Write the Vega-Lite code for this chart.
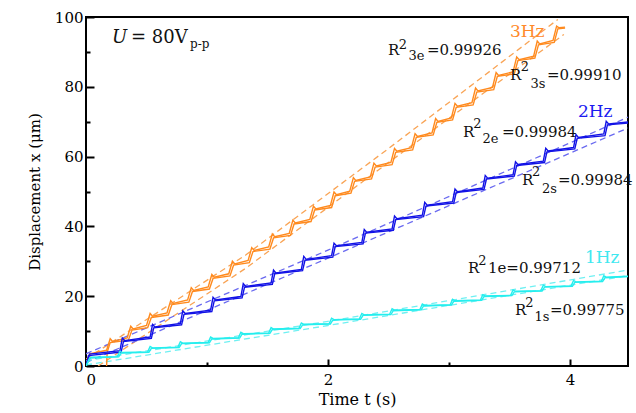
{
"$schema": "https://vega.github.io/schema/vega-lite/v6.json",
"width": 542, "height": 349,
"autosize": {"type": "none"},
"padding": {"left": 86, "top": 17, "right": 8, "bottom": 47},
"background": "white",
"config": {
  "view": {"stroke": "black", "strokeWidth": 2},
  "font": "DejaVu Serif",
  "axis": {"domain": false, "grid": false, "labelFont": "DejaVu Serif", "labelFontSize": 15, "labelColor": "black", "titleFont": "DejaVu Serif", "titleFontSize": 16, "titleFontWeight": "normal", "titleColor": "black", "tickColor": "black", "tickWidth": 2}
},
"datasets": {
"steps": [
{"f":"3Hz","c":"e","t":0,"y":0},{"f":"3Hz","c":"e","t":0.03,"y":3.5},
{"f":"3Hz","c":"e","t":0.17,"y":4.5},{"f":"3Hz","c":"e","t":0.20,"y":7.83},{"f":"3Hz","c":"e","t":0.22,"y":7.03},
{"f":"3Hz","c":"e","t":0.34,"y":8.03},{"f":"3Hz","c":"e","t":0.37,"y":11.41},{"f":"3Hz","c":"e","t":0.39,"y":10.61},
{"f":"3Hz","c":"e","t":0.50,"y":11.61},{"f":"3Hz","c":"e","t":0.53,"y":15.04},{"f":"3Hz","c":"e","t":0.55,"y":14.24},
{"f":"3Hz","c":"e","t":0.67,"y":15.24},{"f":"3Hz","c":"e","t":0.70,"y":18.72},{"f":"3Hz","c":"e","t":0.72,"y":17.92},
{"f":"3Hz","c":"e","t":0.84,"y":18.92},{"f":"3Hz","c":"e","t":0.87,"y":22.45},{"f":"3Hz","c":"e","t":0.89,"y":21.65},
{"f":"3Hz","c":"e","t":1.01,"y":22.65},{"f":"3Hz","c":"e","t":1.04,"y":26.22},{"f":"3Hz","c":"e","t":1.06,"y":25.42},
{"f":"3Hz","c":"e","t":1.18,"y":26.42},{"f":"3Hz","c":"e","t":1.21,"y":30.04},{"f":"3Hz","c":"e","t":1.23,"y":29.24},
{"f":"3Hz","c":"e","t":1.34,"y":30.24},{"f":"3Hz","c":"e","t":1.37,"y":33.91},{"f":"3Hz","c":"e","t":1.39,"y":33.11},
{"f":"3Hz","c":"e","t":1.51,"y":34.11},{"f":"3Hz","c":"e","t":1.54,"y":37.82},{"f":"3Hz","c":"e","t":1.56,"y":37.02},
{"f":"3Hz","c":"e","t":1.68,"y":38.02},{"f":"3Hz","c":"e","t":1.71,"y":41.79},{"f":"3Hz","c":"e","t":1.73,"y":40.99},
{"f":"3Hz","c":"e","t":1.85,"y":41.99},{"f":"3Hz","c":"e","t":1.88,"y":45.8},{"f":"3Hz","c":"e","t":1.90,"y":45.0},
{"f":"3Hz","c":"e","t":2.02,"y":46.0},{"f":"3Hz","c":"e","t":2.05,"y":49.86},{"f":"3Hz","c":"e","t":2.07,"y":49.06},
{"f":"3Hz","c":"e","t":2.18,"y":50.06},{"f":"3Hz","c":"e","t":2.21,"y":53.97},{"f":"3Hz","c":"e","t":2.23,"y":53.17},
{"f":"3Hz","c":"e","t":2.35,"y":54.17},{"f":"3Hz","c":"e","t":2.38,"y":58.13},{"f":"3Hz","c":"e","t":2.40,"y":57.33},
{"f":"3Hz","c":"e","t":2.52,"y":58.33},{"f":"3Hz","c":"e","t":2.55,"y":62.34},{"f":"3Hz","c":"e","t":2.57,"y":61.54},
{"f":"3Hz","c":"e","t":2.69,"y":62.54},{"f":"3Hz","c":"e","t":2.72,"y":66.59},{"f":"3Hz","c":"e","t":2.74,"y":65.79},
{"f":"3Hz","c":"e","t":2.86,"y":66.79},{"f":"3Hz","c":"e","t":2.89,"y":70.89},{"f":"3Hz","c":"e","t":2.91,"y":70.09},
{"f":"3Hz","c":"e","t":3.02,"y":71.09},{"f":"3Hz","c":"e","t":3.05,"y":75.24},{"f":"3Hz","c":"e","t":3.07,"y":74.44},
{"f":"3Hz","c":"e","t":3.19,"y":75.44},{"f":"3Hz","c":"e","t":3.22,"y":79.64},{"f":"3Hz","c":"e","t":3.24,"y":78.84},
{"f":"3Hz","c":"e","t":3.36,"y":79.84},{"f":"3Hz","c":"e","t":3.39,"y":84.08},{"f":"3Hz","c":"e","t":3.41,"y":83.28},
{"f":"3Hz","c":"e","t":3.53,"y":84.28},{"f":"3Hz","c":"e","t":3.56,"y":88.57},{"f":"3Hz","c":"e","t":3.58,"y":87.77},
{"f":"3Hz","c":"e","t":3.70,"y":88.77},{"f":"3Hz","c":"e","t":3.73,"y":93.11},{"f":"3Hz","c":"e","t":3.75,"y":92.31},
{"f":"3Hz","c":"e","t":3.86,"y":93.31},{"f":"3Hz","c":"e","t":3.89,"y":97.4},{"f":"3Hz","c":"e","t":3.91,"y":96.9},
{"f":"3Hz","c":"e","t":3.96,"y":97.1},
{"f":"3Hz","c":"s","t":0.17,"y":0},{"f":"3Hz","c":"s","t":0.175,"y":3.9},{"f":"3Hz","c":"s","t":0.20,"y":6.7},
{"f":"3Hz","c":"s","t":0.35,"y":7.4},{"f":"3Hz","c":"s","t":0.38,"y":10.3},
{"f":"3Hz","c":"s","t":0.51,"y":11.0},{"f":"3Hz","c":"s","t":0.54,"y":13.9},
{"f":"3Hz","c":"s","t":0.68,"y":14.6},{"f":"3Hz","c":"s","t":0.71,"y":17.6},
{"f":"3Hz","c":"s","t":0.85,"y":18.3},{"f":"3Hz","c":"s","t":0.88,"y":21.35},
{"f":"3Hz","c":"s","t":1.02,"y":22.05},{"f":"3Hz","c":"s","t":1.05,"y":25.1},
{"f":"3Hz","c":"s","t":1.19,"y":25.8},{"f":"3Hz","c":"s","t":1.22,"y":28.9},
{"f":"3Hz","c":"s","t":1.35,"y":29.6},{"f":"3Hz","c":"s","t":1.38,"y":32.8},
{"f":"3Hz","c":"s","t":1.52,"y":33.5},{"f":"3Hz","c":"s","t":1.55,"y":36.7},
{"f":"3Hz","c":"s","t":1.69,"y":37.4},{"f":"3Hz","c":"s","t":1.72,"y":40.7},
{"f":"3Hz","c":"s","t":1.86,"y":41.4},{"f":"3Hz","c":"s","t":1.89,"y":44.7},
{"f":"3Hz","c":"s","t":2.03,"y":45.4},{"f":"3Hz","c":"s","t":2.06,"y":48.8},
{"f":"3Hz","c":"s","t":2.19,"y":49.5},{"f":"3Hz","c":"s","t":2.22,"y":52.9},
{"f":"3Hz","c":"s","t":2.36,"y":53.6},{"f":"3Hz","c":"s","t":2.39,"y":57.0},
{"f":"3Hz","c":"s","t":2.53,"y":57.7},{"f":"3Hz","c":"s","t":2.56,"y":61.2},
{"f":"3Hz","c":"s","t":2.70,"y":61.9},{"f":"3Hz","c":"s","t":2.73,"y":65.5},
{"f":"3Hz","c":"s","t":2.87,"y":66.2},{"f":"3Hz","c":"s","t":2.90,"y":69.8},
{"f":"3Hz","c":"s","t":3.03,"y":70.5},{"f":"3Hz","c":"s","t":3.06,"y":74.1},
{"f":"3Hz","c":"s","t":3.20,"y":74.8},{"f":"3Hz","c":"s","t":3.23,"y":78.5},
{"f":"3Hz","c":"s","t":3.37,"y":79.2},{"f":"3Hz","c":"s","t":3.40,"y":83.0},
{"f":"3Hz","c":"s","t":3.54,"y":83.7},{"f":"3Hz","c":"s","t":3.57,"y":87.5},
{"f":"3Hz","c":"s","t":3.71,"y":88.2},{"f":"3Hz","c":"s","t":3.74,"y":92.0},
{"f":"3Hz","c":"s","t":3.87,"y":92.7},{"f":"3Hz","c":"s","t":3.90,"y":96.6},
{"f":"3Hz","c":"s","t":3.96,"y":96.8},
{"f":"2Hz","c":"e","t":0,"y":0},{"f":"2Hz","c":"e","t":0.03,"y":3.4},
{"f":"2Hz","c":"e","t":0.28,"y":4.4},{"f":"2Hz","c":"e","t":0.30,"y":8.0},{"f":"2Hz","c":"e","t":0.32,"y":7.28},
{"f":"2Hz","c":"e","t":0.53,"y":8.3},{"f":"2Hz","c":"e","t":0.55,"y":11.9},{"f":"2Hz","c":"e","t":0.57,"y":11.16},
{"f":"2Hz","c":"e","t":0.78,"y":12.2},{"f":"2Hz","c":"e","t":0.80,"y":15.8},{"f":"2Hz","c":"e","t":0.82,"y":15.04},
{"f":"2Hz","c":"e","t":1.03,"y":16.0},{"f":"2Hz","c":"e","t":1.05,"y":19.7},{"f":"2Hz","c":"e","t":1.07,"y":18.92},
{"f":"2Hz","c":"e","t":1.28,"y":19.9},{"f":"2Hz","c":"e","t":1.30,"y":23.6},{"f":"2Hz","c":"e","t":1.32,"y":22.8},
{"f":"2Hz","c":"e","t":1.53,"y":23.8},{"f":"2Hz","c":"e","t":1.55,"y":27.5},{"f":"2Hz","c":"e","t":1.57,"y":26.68},
{"f":"2Hz","c":"e","t":1.78,"y":27.7},{"f":"2Hz","c":"e","t":1.80,"y":31.4},{"f":"2Hz","c":"e","t":1.82,"y":30.56},
{"f":"2Hz","c":"e","t":2.03,"y":31.6},{"f":"2Hz","c":"e","t":2.05,"y":35.2},{"f":"2Hz","c":"e","t":2.07,"y":34.44},
{"f":"2Hz","c":"e","t":2.28,"y":35.4},{"f":"2Hz","c":"e","t":2.30,"y":39.1},{"f":"2Hz","c":"e","t":2.32,"y":38.32},
{"f":"2Hz","c":"e","t":2.53,"y":39.3},{"f":"2Hz","c":"e","t":2.55,"y":43.0},{"f":"2Hz","c":"e","t":2.57,"y":42.2},
{"f":"2Hz","c":"e","t":2.78,"y":43.2},{"f":"2Hz","c":"e","t":2.80,"y":46.9},{"f":"2Hz","c":"e","t":2.82,"y":46.08},
{"f":"2Hz","c":"e","t":3.03,"y":47.1},{"f":"2Hz","c":"e","t":3.05,"y":50.7},{"f":"2Hz","c":"e","t":3.07,"y":49.96},
{"f":"2Hz","c":"e","t":3.28,"y":51.0},{"f":"2Hz","c":"e","t":3.30,"y":54.6},{"f":"2Hz","c":"e","t":3.32,"y":53.84},
{"f":"2Hz","c":"e","t":3.53,"y":54.8},{"f":"2Hz","c":"e","t":3.55,"y":58.5},{"f":"2Hz","c":"e","t":3.57,"y":57.72},
{"f":"2Hz","c":"e","t":3.78,"y":58.7},{"f":"2Hz","c":"e","t":3.80,"y":62.4},{"f":"2Hz","c":"e","t":3.82,"y":61.6},
{"f":"2Hz","c":"e","t":4.03,"y":62.6},{"f":"2Hz","c":"e","t":4.05,"y":66.3},{"f":"2Hz","c":"e","t":4.07,"y":65.48},
{"f":"2Hz","c":"e","t":4.28,"y":66.5},{"f":"2Hz","c":"e","t":4.30,"y":70.1},{"f":"2Hz","c":"e","t":4.32,"y":69.36},
{"f":"2Hz","c":"e","t":4.48,"y":69.9},
{"f":"2Hz","c":"s","t":0,"y":0},{"f":"2Hz","c":"s","t":0.02,"y":3.0},
{"f":"2Hz","c":"s","t":0.29,"y":4.0},{"f":"2Hz","c":"s","t":0.31,"y":7.03},
{"f":"2Hz","c":"s","t":0.54,"y":7.9},{"f":"2Hz","c":"s","t":0.56,"y":10.91},
{"f":"2Hz","c":"s","t":0.79,"y":11.8},{"f":"2Hz","c":"s","t":0.81,"y":14.79},
{"f":"2Hz","c":"s","t":1.04,"y":15.6},{"f":"2Hz","c":"s","t":1.06,"y":18.67},
{"f":"2Hz","c":"s","t":1.29,"y":19.5},{"f":"2Hz","c":"s","t":1.31,"y":22.55},
{"f":"2Hz","c":"s","t":1.54,"y":23.4},{"f":"2Hz","c":"s","t":1.56,"y":26.43},
{"f":"2Hz","c":"s","t":1.79,"y":27.3},{"f":"2Hz","c":"s","t":1.81,"y":30.31},
{"f":"2Hz","c":"s","t":2.04,"y":31.2},{"f":"2Hz","c":"s","t":2.06,"y":34.19},
{"f":"2Hz","c":"s","t":2.29,"y":35.0},{"f":"2Hz","c":"s","t":2.31,"y":38.07},
{"f":"2Hz","c":"s","t":2.54,"y":38.9},{"f":"2Hz","c":"s","t":2.56,"y":41.95},
{"f":"2Hz","c":"s","t":2.79,"y":42.8},{"f":"2Hz","c":"s","t":2.81,"y":45.83},
{"f":"2Hz","c":"s","t":3.04,"y":46.7},{"f":"2Hz","c":"s","t":3.06,"y":49.71},
{"f":"2Hz","c":"s","t":3.29,"y":50.6},{"f":"2Hz","c":"s","t":3.31,"y":53.59},
{"f":"2Hz","c":"s","t":3.54,"y":54.4},{"f":"2Hz","c":"s","t":3.56,"y":57.47},
{"f":"2Hz","c":"s","t":3.79,"y":58.3},{"f":"2Hz","c":"s","t":3.81,"y":61.35},
{"f":"2Hz","c":"s","t":4.04,"y":62.2},{"f":"2Hz","c":"s","t":4.06,"y":65.23},
{"f":"2Hz","c":"s","t":4.29,"y":66.0},{"f":"2Hz","c":"s","t":4.31,"y":69.11},
{"f":"2Hz","c":"s","t":4.48,"y":69.6},
{"f":"1Hz","c":"e","t":0,"y":0},{"f":"1Hz","c":"e","t":0.04,"y":2.5},
{"f":"1Hz","c":"e","t":0.26,"y":2.7},{"f":"1Hz","c":"e","t":0.28,"y":4.25},{"f":"1Hz","c":"e","t":0.30,"y":3.85},
{"f":"1Hz","c":"e","t":0.51,"y":4.05},{"f":"1Hz","c":"e","t":0.53,"y":5.6},{"f":"1Hz","c":"e","t":0.55,"y":5.2},
{"f":"1Hz","c":"e","t":0.76,"y":5.4},{"f":"1Hz","c":"e","t":0.78,"y":6.95},{"f":"1Hz","c":"e","t":0.80,"y":6.55},
{"f":"1Hz","c":"e","t":1.01,"y":6.75},{"f":"1Hz","c":"e","t":1.03,"y":8.3},{"f":"1Hz","c":"e","t":1.05,"y":7.9},
{"f":"1Hz","c":"e","t":1.26,"y":8.1},{"f":"1Hz","c":"e","t":1.28,"y":9.65},{"f":"1Hz","c":"e","t":1.30,"y":9.25},
{"f":"1Hz","c":"e","t":1.51,"y":9.45},{"f":"1Hz","c":"e","t":1.53,"y":11.0},{"f":"1Hz","c":"e","t":1.55,"y":10.6},
{"f":"1Hz","c":"e","t":1.76,"y":10.8},{"f":"1Hz","c":"e","t":1.78,"y":12.35},{"f":"1Hz","c":"e","t":1.80,"y":11.95},
{"f":"1Hz","c":"e","t":2.01,"y":12.15},{"f":"1Hz","c":"e","t":2.03,"y":13.7},{"f":"1Hz","c":"e","t":2.05,"y":13.3},
{"f":"1Hz","c":"e","t":2.26,"y":13.5},{"f":"1Hz","c":"e","t":2.28,"y":15.05},{"f":"1Hz","c":"e","t":2.30,"y":14.65},
{"f":"1Hz","c":"e","t":2.51,"y":14.85},{"f":"1Hz","c":"e","t":2.53,"y":16.4},{"f":"1Hz","c":"e","t":2.55,"y":16.0},
{"f":"1Hz","c":"e","t":2.76,"y":16.2},{"f":"1Hz","c":"e","t":2.78,"y":17.75},{"f":"1Hz","c":"e","t":2.80,"y":17.35},
{"f":"1Hz","c":"e","t":3.01,"y":17.55},{"f":"1Hz","c":"e","t":3.03,"y":19.1},{"f":"1Hz","c":"e","t":3.05,"y":18.7},
{"f":"1Hz","c":"e","t":3.26,"y":18.9},{"f":"1Hz","c":"e","t":3.28,"y":20.45},{"f":"1Hz","c":"e","t":3.30,"y":20.05},
{"f":"1Hz","c":"e","t":3.51,"y":20.25},{"f":"1Hz","c":"e","t":3.53,"y":21.8},{"f":"1Hz","c":"e","t":3.55,"y":21.4},
{"f":"1Hz","c":"e","t":3.76,"y":21.6},{"f":"1Hz","c":"e","t":3.78,"y":23.15},{"f":"1Hz","c":"e","t":3.80,"y":22.75},
{"f":"1Hz","c":"e","t":4.01,"y":22.95},{"f":"1Hz","c":"e","t":4.03,"y":24.5},{"f":"1Hz","c":"e","t":4.05,"y":24.1},
{"f":"1Hz","c":"e","t":4.26,"y":24.3},{"f":"1Hz","c":"e","t":4.28,"y":25.85},{"f":"1Hz","c":"e","t":4.30,"y":25.45},
{"f":"1Hz","c":"e","t":4.48,"y":25.7},
{"f":"1Hz","c":"s","t":0,"y":0},{"f":"1Hz","c":"s","t":0.03,"y":2.3},
{"f":"1Hz","c":"s","t":0.27,"y":2.6},{"f":"1Hz","c":"s","t":0.29,"y":3.7},
{"f":"1Hz","c":"s","t":0.52,"y":3.95},{"f":"1Hz","c":"s","t":0.54,"y":5.05},
{"f":"1Hz","c":"s","t":0.77,"y":5.3},{"f":"1Hz","c":"s","t":0.79,"y":6.4},
{"f":"1Hz","c":"s","t":1.02,"y":6.65},{"f":"1Hz","c":"s","t":1.04,"y":7.75},
{"f":"1Hz","c":"s","t":1.27,"y":8.0},{"f":"1Hz","c":"s","t":1.29,"y":9.1},
{"f":"1Hz","c":"s","t":1.52,"y":9.35},{"f":"1Hz","c":"s","t":1.54,"y":10.45},
{"f":"1Hz","c":"s","t":1.77,"y":10.7},{"f":"1Hz","c":"s","t":1.79,"y":11.8},
{"f":"1Hz","c":"s","t":2.02,"y":12.05},{"f":"1Hz","c":"s","t":2.04,"y":13.15},
{"f":"1Hz","c":"s","t":2.27,"y":13.4},{"f":"1Hz","c":"s","t":2.29,"y":14.5},
{"f":"1Hz","c":"s","t":2.52,"y":14.75},{"f":"1Hz","c":"s","t":2.54,"y":15.85},
{"f":"1Hz","c":"s","t":2.77,"y":16.1},{"f":"1Hz","c":"s","t":2.79,"y":17.2},
{"f":"1Hz","c":"s","t":3.02,"y":17.45},{"f":"1Hz","c":"s","t":3.04,"y":18.55},
{"f":"1Hz","c":"s","t":3.27,"y":18.8},{"f":"1Hz","c":"s","t":3.29,"y":19.9},
{"f":"1Hz","c":"s","t":3.52,"y":20.15},{"f":"1Hz","c":"s","t":3.54,"y":21.25},
{"f":"1Hz","c":"s","t":3.77,"y":21.5},{"f":"1Hz","c":"s","t":3.79,"y":22.6},
{"f":"1Hz","c":"s","t":4.02,"y":22.85},{"f":"1Hz","c":"s","t":4.04,"y":23.95},
{"f":"1Hz","c":"s","t":4.27,"y":24.2},{"f":"1Hz","c":"s","t":4.29,"y":25.3},
{"f":"1Hz","c":"s","t":4.48,"y":25.6}
],
"fits": [
{"f":"3Hz","c":"e","t":0,"y":2.0},{"f":"3Hz","c":"e","t":1.32,"y":31.8},{"f":"3Hz","c":"e","t":2.5,"y":62.3},{"f":"3Hz","c":"e","t":3.9,"y":99.3},
{"f":"3Hz","c":"s","t":0.1,"y":0},{"f":"3Hz","c":"s","t":1.32,"y":28.0},{"f":"3Hz","c":"s","t":2.5,"y":58.3},{"f":"3Hz","c":"s","t":3.95,"y":95.0},
{"f":"2Hz","c":"e","t":0,"y":3.5},{"f":"2Hz","c":"e","t":2,"y":33.2},{"f":"2Hz","c":"e","t":4.48,"y":71.3},
{"f":"2Hz","c":"s","t":0,"y":1.0},{"f":"2Hz","c":"s","t":2,"y":30.9},{"f":"2Hz","c":"s","t":4.48,"y":68.2},
{"f":"1Hz","c":"e","t":0,"y":1.5},{"f":"1Hz","c":"e","t":2,"y":12.8},{"f":"1Hz","c":"e","t":4.48,"y":27.5},
{"f":"1Hz","c":"s","t":0,"y":0.3},{"f":"1Hz","c":"s","t":2,"y":11.6},{"f":"1Hz","c":"s","t":4.48,"y":25.9}
],
"notes": [
{"role":"main","f":"k","t":2.496,"y":89.1,"label":"R"},
{"role":"sup","f":"k","t":2.585,"y":90.8,"label":"2"},
{"role":"sub","f":"k","t":2.665,"y":87.6,"label":"3e"},
{"role":"main","f":"k","t":2.818,"y":89.1,"label":"=0.99926"},
{"role":"main","f":"k","t":3.504,"y":81.9,"label":"R"},
{"role":"sup","f":"k","t":3.593,"y":84.6,"label":"2"},
{"role":"sub","f":"k","t":3.674,"y":79.6,"label":"3s"},
{"role":"main","f":"k","t":3.810,"y":81.9,"label":"=0.99910"},
{"role":"main","f":"k","t":3.116,"y":65.6,"label":"R"},
{"role":"sup","f":"k","t":3.200,"y":68.2,"label":"2"},
{"role":"sub","f":"k","t":3.277,"y":64.0,"label":"2e"},
{"role":"main","f":"k","t":3.438,"y":65.6,"label":"=0.99984"},
{"role":"main","f":"k","t":3.603,"y":51.9,"label":"R"},
{"role":"sup","f":"k","t":3.687,"y":54.4,"label":"2"},
{"role":"sub","f":"k","t":3.770,"y":49.7,"label":"2s"},
{"role":"main","f":"k","t":3.901,"y":51.9,"label":"=0.99984"},
{"role":"main","f":"k","t":3.157,"y":26.6,"label":"R"},
{"role":"sup","f":"k","t":3.243,"y":29.0,"label":"2"},
{"role":"main","f":"k","t":3.322,"y":26.6,"label":"1e=0.99712"},
{"role":"main","f":"k","t":3.545,"y":14.6,"label":"R"},
{"role":"sup","f":"k","t":3.630,"y":16.9,"label":"2"},
{"role":"sub","f":"k","t":3.707,"y":12.9,"label":"1s"},
{"role":"main","f":"k","t":3.835,"y":14.6,"label":"=0.99775"},
{"role":"freq","f":"3Hz","t":3.504,"y":94.3,"label":"3Hz"},
{"role":"freq","f":"2Hz","t":4.066,"y":71.3,"label":"2Hz"},
{"role":"freq","f":"1Hz","t":4.124,"y":29.5,"label":"1Hz"},
{"role":"voltU","f":"k","t":0.215,"y":92.5,"label":"U"},
{"role":"volt","f":"k","t":0.372,"y":92.5,"label":"= 80V"},
{"role":"voltsub","f":"k","t":0.86,"y":91.1,"label":"p-p"}
]
},
"encoding": {
  "x": {"field": "t", "type": "quantitative", "title": "Time t (s)",
        "scale": {"domain": [0, 4.48], "nice": false, "zero": false},
        "axis": {"values": [0, 1, 2, 3, 4], "labelExpr": "datum.value % 2 === 0 ? datum.label : ''",
                 "tickSize": {"condition": {"test": "datum.value % 2 === 0", "value": -7}, "value": -4},
                 "labelPadding": 13, "titlePadding": 4}},
  "y": {"field": "y", "type": "quantitative", "title": "Displacement x (μm)",
        "scale": {"domain": [0, 100], "nice": false},
        "axis": {"values": [0, 10, 20, 30, 40, 50, 60, 70, 80, 90, 100], "labelExpr": "datum.value % 20 === 0 ? datum.label : ''",
                 "tickSize": {"condition": {"test": "datum.value % 20 === 0", "value": -8}, "value": -4},
                 "labelPadding": 11, "titlePadding": 12, "titleFontSize": 15}}
},
"layer": [
  {"data": {"name": "fits"}, "mark": {"type": "line", "strokeDash": [6, 4], "strokeWidth": 1.3, "clip": true},
   "encoding": {"color": {"field": "f", "type": "nominal", "legend": null,
                "scale": {"domain": ["3Hz", "2Hz", "1Hz"], "range": ["#F9A455", "#6A6AF0", "#6FF0F2"]}},
                "detail": {"field": "c"}}},
  {"data": {"name": "steps"}, "mark": {"type": "line", "strokeWidth": 1.4, "clip": true},
   "encoding": {"color": {"field": "f", "type": "nominal", "legend": null,
                "scale": {"domain": ["3Hz", "2Hz", "1Hz"], "range": ["#FF8A1E", "#1212E6", "#25EEEE"]}},
                "detail": {"field": "c"}}},
  {"data": {"name": "notes"}, "transform": [{"filter": "datum.role === 'main'"}],
   "mark": {"type": "text", "align": "left", "baseline": "alphabetic", "fontSize": 15, "font": "DejaVu Serif"},
   "encoding": {"text": {"field": "label"}, "color": {"value": "#111111"}}},
  {"data": {"name": "notes"}, "transform": [{"filter": "datum.role === 'sup' || datum.role === 'sub'"}],
   "mark": {"type": "text", "align": "left", "baseline": "alphabetic", "fontSize": 13, "font": "DejaVu Serif"},
   "encoding": {"text": {"field": "label"}, "color": {"value": "#111111"}}},
  {"data": {"name": "notes"}, "transform": [{"filter": "datum.role === 'freq'"}],
   "mark": {"type": "text", "align": "left", "baseline": "alphabetic", "fontSize": 17, "font": "DejaVu Serif"},
   "encoding": {"text": {"field": "label"},
                "color": {"field": "f", "type": "nominal", "legend": null,
                          "scale": {"domain": ["3Hz", "2Hz", "1Hz"], "range": ["#FF8A2A", "#1A1AF0", "#40E8F0"]}}}},
  {"data": {"name": "notes"}, "transform": [{"filter": "datum.role === 'voltU'"}],
   "mark": {"type": "text", "align": "left", "baseline": "alphabetic", "fontSize": 18, "fontStyle": "italic", "font": "DejaVu Serif"},
   "encoding": {"text": {"field": "label"}, "color": {"value": "#111111"}}},
  {"data": {"name": "notes"}, "transform": [{"filter": "datum.role === 'volt'"}],
   "mark": {"type": "text", "align": "left", "baseline": "alphabetic", "fontSize": 18, "font": "DejaVu Serif"},
   "encoding": {"text": {"field": "label"}, "color": {"value": "#111111"}}},
  {"data": {"name": "notes"}, "transform": [{"filter": "datum.role === 'voltsub'"}],
   "mark": {"type": "text", "align": "left", "baseline": "alphabetic", "fontSize": 12, "font": "DejaVu Serif"},
   "encoding": {"text": {"field": "label"}, "color": {"value": "#111111"}}}
],
"resolve": {"scale": {"color": "independent"}}
}
